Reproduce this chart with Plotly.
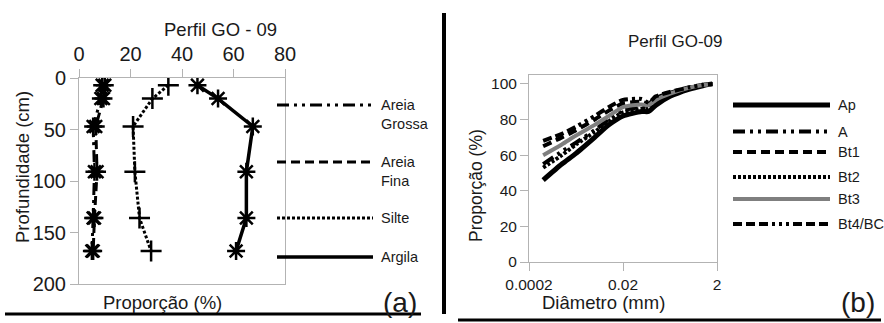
import plotly.graph_objects as go

W, H = 884, 323
FONT = "Liberation Sans, Arial, sans-serif"
TXT = "#1a1a1a"
FRAME = "#b3b3b3"

# ---------------- Panel (a) data ----------------
depth_cm = [7, 20, 47, 91, 136, 168]
areia_grossa = [9, 8.5, 5.5, 6, 5.5, 5]
areia_fina = [10, 9.5, 6.5, 7, 6, 5.5]
silte = [34.7, 28.5, 21, 21.7, 23.5, 28]
argila = [46, 54, 67.5, 65, 65, 61]
a_x_ticks = [0, 20, 40, 60, 80]
a_y_ticks = [0, 50, 100, 150, 200]

# ---------------- Panel (b) data ----------------
diam_mm = [0.0004, 0.001, 0.002, 0.005, 0.01, 0.02, 0.05, 0.07, 0.1, 0.2, 0.5, 1.0, 1.6]
ap = [46, 55, 61, 70, 77, 82, 84.5, 84.5, 88, 93, 97, 99, 100]
hor_a = [55, 62, 67, 74, 80, 85, 87, 86.5, 90, 94, 97.5, 99.3, 100]
bt1 = [65, 70, 74, 80, 85, 89, 90, 89, 92, 95, 98, 99.5, 100]
bt2 = [53, 60, 66, 73, 79, 84, 86, 86, 89, 93.5, 97.5, 99.3, 100]
bt3 = [60, 66, 71, 77, 82, 87, 88.5, 88, 91, 94.5, 97.8, 99.4, 100]
bt4bc = [68, 72, 76, 82, 87, 91, 91.5, 89.5, 93, 95.5, 98, 99.5, 100]
b_x_ticks = [0.0002, 0.02, 2]
b_x_ticktext = ["0.0002", "0.02", "2"]
b_y_ticks = [0, 20, 40, 60, 80, 100]


def px(x):
    return x / W


def py(y):
    return 1 - y / H


DASHDOT = "12px,5px,3px,5px,3px,5px"
DASHED = "9px,5px"
DOTTED = "3px,2px"
DASH3DOT = "9px,4px,9px,4px,9px,4px,3px,4px,3px,4px,3px,4px"

fig = go.Figure()

a_series = [
    ("Areia Grossa", areia_grossa, DASHDOT, "asterisk-open", 3),
    ("Areia Fina", areia_fina, DASHED, "asterisk-open", 3),
    ("Silte", silte, DOTTED, "cross-thin-open", 3),
    ("Argila", argila, "solid", "asterisk-open", 3.5),
]
for name, vals, dash, sym, lw in a_series:
    fig.add_trace(go.Scatter(
        x=vals, y=depth_cm, mode="lines+markers", name=name,
        xaxis="x", yaxis="y", showlegend=False,
        line=dict(color="black", width=lw, dash=dash),
        marker=dict(symbol=sym, size=15, color="black",
                    line=dict(color="black", width=2.5)),
    ))

b_series = [
    ("Ap", ap, "solid", "black", 5),
    ("A", hor_a, DASHDOT, "black", 4),
    ("Bt1", bt1, DASHED, "black", 4),
    ("Bt2", bt2, DOTTED, "black", 4),
    ("Bt3", bt3, "solid", "#7f7f7f", 4),
    ("Bt4/BC", bt4bc, DASH3DOT, "black", 4),
]
for name, vals, dash, col, lw in b_series:
    fig.add_trace(go.Scatter(
        x=diam_mm, y=vals, mode="lines", name=name,
        xaxis="x2", yaxis="y2", showlegend=False,
        line=dict(color=col, width=lw, dash=dash, shape="spline", smoothing=0.6),
    ))

axis_common = dict(showgrid=False, zeroline=False, showline=True, linecolor=FRAME,
                   linewidth=1, mirror=True, ticks="outside", tickcolor=FRAME,
                   ticklen=8, tickwidth=1, automargin=False)

fig.update_layout(
    template="none",
    width=W, height=H, margin=dict(l=0, r=0, t=0, b=0, pad=0, autoexpand=False),
    paper_bgcolor="white", plot_bgcolor="white",
    font=dict(family=FONT, color=TXT),
    showlegend=False,
    xaxis=dict(domain=[px(79), px(285)], range=[0, 80], tickvals=a_x_ticks,
               side="top", anchor="y", tickfont=dict(size=20, color=TXT),
               **axis_common),
    yaxis=dict(domain=[py(284), py(78)], range=[200, 0], tickvals=a_y_ticks,
               anchor="x", tickfont=dict(size=20, color=TXT), **axis_common),
    xaxis2=dict(domain=[px(529), px(717)], type="log",
                range=[-3.69897, 0.30103], tickvals=b_x_ticks,
                ticktext=b_x_ticktext, anchor="y2",
                tickfont=dict(size=15.5, color=TXT), **axis_common),
    yaxis2=dict(domain=[py(262), py(75)], range=[0, 105], tickvals=b_y_ticks,
                anchor="x2", tickfont=dict(size=15.5, color=TXT), **axis_common),
)

ann = []


def text(x, y, s, size, xanchor="center", yanchor="middle", angle=0, align="left"):
    ann.append(dict(x=px(x), y=py(y), xref="paper", yref="paper", text=s,
                    showarrow=False, xanchor=xanchor, yanchor=yanchor,
                    textangle=angle, align=align,
                    font=dict(size=size, color=TXT, family=FONT)))


text(220, 30, "Perfil GO - 09", 18.5)
text(22, 167, "Profundidade (cm)", 18.5, angle=-90)
text(162, 302, "Proporção (%)", 18.5)
text(675, 42, "Perfil GO-09", 17)
text(476, 186, "Proporção (%)", 17.5, angle=-90)
text(603, 302, "Diâmetro (mm)", 18.5)
text(400, 302, "(a)", 28)
text(858, 302, "(b)", 28)

shapes = []


def hline(x0, x1, y, dash, color="black", width=3):
    shapes.append(dict(type="line", xref="paper", yref="paper",
                       x0=px(x0), x1=px(x1), y0=py(y), y1=py(y),
                       line=dict(color=color, width=width, dash=dash)))


a_leg_y = [105, 162, 218, 257]
for (name, vals, dash, sym, lw), ly in zip(a_series, a_leg_y):
    hline(277, 373, ly, dash, width=lw)
text(379, 114, "Areia<br>Grossa", 14.5, xanchor="left", yanchor="middle")
text(379, 171, "Areia<br>Fina", 14.5, xanchor="left", yanchor="middle")
text(379, 218, "Silte", 14.5, xanchor="left")
text(379, 257, "Argila", 14.5, xanchor="left")

b_leg_y = [105, 131.5, 152, 177, 199, 224]
for (name, vals, dash, col, lw), ly in zip(b_series, b_leg_y):
    hline(733, 830, ly, dash, color=col, width=lw)
    text(836, ly, name, 14.5, xanchor="left")

shapes.append(dict(type="line", xref="paper", yref="paper", x0=px(444), x1=px(444),
                   y0=py(13), y1=py(314), line=dict(color="black", width=4)))
hline(5, 421, 314, "solid", width=3)
hline(458, 881, 320, "solid", width=3)

fig.update_layout(annotations=ann, shapes=shapes)
fig.write_html("out.html")
